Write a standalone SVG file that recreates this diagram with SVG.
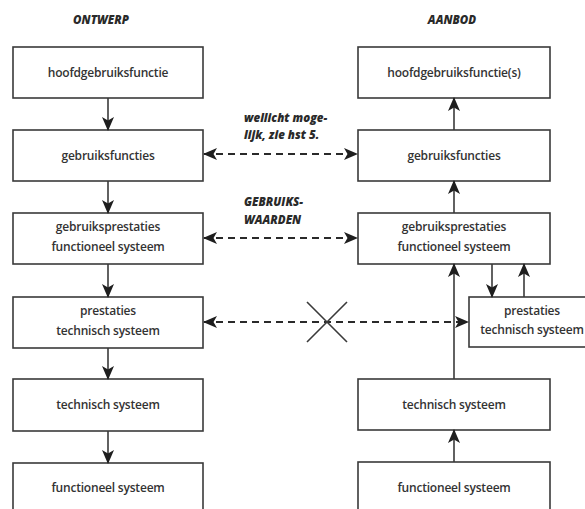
<svg xmlns="http://www.w3.org/2000/svg" width="585" height="509" viewBox="0 0 585 509">
  <style>
    .box { fill: #ffffff; stroke: #3a3a3a; stroke-width: 1.6; }
    .lbl { font-family: "Open Sans", "Liberation Sans", sans-serif; font-size: 12px; font-weight: 600; fill: #333333; text-anchor: middle; letter-spacing: -0.2px; }
    .head { font-family: "Open Sans", "Liberation Sans", sans-serif; font-size: 11.5px; font-weight: 800; font-style: italic; fill: #2a2a2a; }
    .line { fill: none; stroke: #3a3a3a; stroke-width: 1.6; }
    .dash { fill: none; stroke: #2a2a2a; stroke-width: 2.2; stroke-dasharray: 7 5; }
  </style>
  <defs>
    <marker id="arrow" viewBox="0 0 14 12" refX="13" refY="6" markerWidth="14" markerHeight="12" markerUnits="userSpaceOnUse" orient="auto-start-reverse">
      <path d="M0,0 L14,6 L0,12 L3.5,6 z" fill="#1e1e1e"/>
    </marker>
  </defs>
  <rect width="585" height="509" fill="#ffffff"/>

  <!-- column headings -->
  <text class="head" x="101" y="24" text-anchor="middle">ONTWERP</text>
  <text class="head" x="452" y="24" text-anchor="middle">AANBOD</text>

  <!-- annotations between columns -->
  <text class="head" x="244" y="122" font-weight="600">wellicht moge-</text>
  <text class="head" x="244" y="139" font-weight="600">lijk, zie hst 5.</text>
  <text class="head" x="244" y="206">GEBRUIKS-</text>
  <text class="head" x="244" y="224">WAARDEN</text>

  <!-- design column -->
  <g id="o-hoofd">
    <rect class="box" x="13" y="47" width="190" height="51"/>
    <text class="lbl" x="108" y="77">hoofdgebruiksfunctie</text>
  </g>
  <g id="o-gebruiksfuncties">
    <rect class="box" x="13" y="130" width="190" height="51"/>
    <text class="lbl" x="108" y="160">gebruiksfuncties</text>
  </g>
  <g id="o-gebruiksprestaties">
    <rect class="box" x="13" y="213" width="190" height="51"/>
    <text class="lbl" x="108" y="231">gebruiksprestaties</text>
    <text class="lbl" x="108" y="251">functioneel systeem</text>
  </g>
  <g id="o-prestaties">
    <rect class="box" x="13" y="297" width="190" height="51"/>
    <text class="lbl" x="108" y="315">prestaties</text>
    <text class="lbl" x="108" y="335">technisch systeem</text>
  </g>
  <g id="o-technisch">
    <rect class="box" x="13" y="379" width="190" height="52"/>
    <text class="lbl" x="108" y="409">technisch systeem</text>
  </g>
  <g id="o-functioneel">
    <rect class="box" x="13" y="463" width="190" height="52"/>
    <text class="lbl" x="108" y="492">functioneel systeem</text>
  </g>

  <!-- supply column -->
  <g id="a-hoofd">
    <rect class="box" x="358" y="47" width="192" height="51"/>
    <text class="lbl" x="454" y="77">hoofdgebruiksfunctie(s)</text>
  </g>
  <g id="a-gebruiksfuncties">
    <rect class="box" x="358" y="130" width="192" height="51"/>
    <text class="lbl" x="454" y="160">gebruiksfuncties</text>
  </g>
  <g id="a-gebruiksprestaties">
    <rect class="box" x="358" y="213" width="192" height="51"/>
    <text class="lbl" x="454" y="231">gebruiksprestaties</text>
    <text class="lbl" x="454" y="251">functioneel systeem</text>
  </g>
  <g id="a-prestaties">
    <rect class="box" x="469" y="297" width="130" height="50"/>
    <text class="lbl" x="532" y="315">prestaties</text>
    <text class="lbl" x="532" y="334">technisch systeem</text>
  </g>
  <g id="a-technisch">
    <rect class="box" x="358" y="379" width="192" height="51"/>
    <text class="lbl" x="454" y="409">technisch systeem</text>
  </g>
  <g id="a-functioneel">
    <rect class="box" x="358" y="462" width="192" height="52"/>
    <text class="lbl" x="454" y="492">functioneel systeem</text>
  </g>

  <!-- connectors -->
  <g id="connectors">
    <!-- design chain, downward -->
    <line class="line" x1="108" y1="98" x2="108" y2="130" marker-end="url(#arrow)"/>
    <line class="line" x1="108" y1="181" x2="108" y2="213" marker-end="url(#arrow)"/>
    <line class="line" x1="108" y1="264" x2="108" y2="297" marker-end="url(#arrow)"/>
    <line class="line" x1="108" y1="348" x2="108" y2="379" marker-end="url(#arrow)"/>
    <line class="line" x1="108" y1="431" x2="108" y2="463" marker-end="url(#arrow)"/>

    <!-- supply chain, upward -->
    <line class="line" x1="454" y1="130" x2="454" y2="98" marker-end="url(#arrow)"/>
    <line class="line" x1="454" y1="213" x2="454" y2="181" marker-end="url(#arrow)"/>
    <line class="line" x1="454" y1="379" x2="454" y2="264" marker-end="url(#arrow)"/>
    <line class="line" x1="454" y1="462" x2="454" y2="430" marker-end="url(#arrow)"/>
    <line class="line" x1="492" y1="264" x2="492" y2="297" marker-end="url(#arrow)"/>
    <line class="line" x1="524" y1="297" x2="524" y2="264" marker-end="url(#arrow)"/>

    <!-- dashed links between the columns -->
    <line class="dash" x1="204" y1="154" x2="357" y2="154" marker-start="url(#arrow)" marker-end="url(#arrow)"/>
    <line class="dash" x1="204" y1="238" x2="357" y2="238" marker-start="url(#arrow)" marker-end="url(#arrow)"/>
    <line class="dash" x1="204" y1="322" x2="468" y2="322" marker-start="url(#arrow)" marker-end="url(#arrow)"/>

    <!-- cross: no direct link -->
    <path class="line" d="M307,302 L347,342 M347,302 L307,342" stroke="#222222" stroke-width="2"/>
  </g>
</svg>
